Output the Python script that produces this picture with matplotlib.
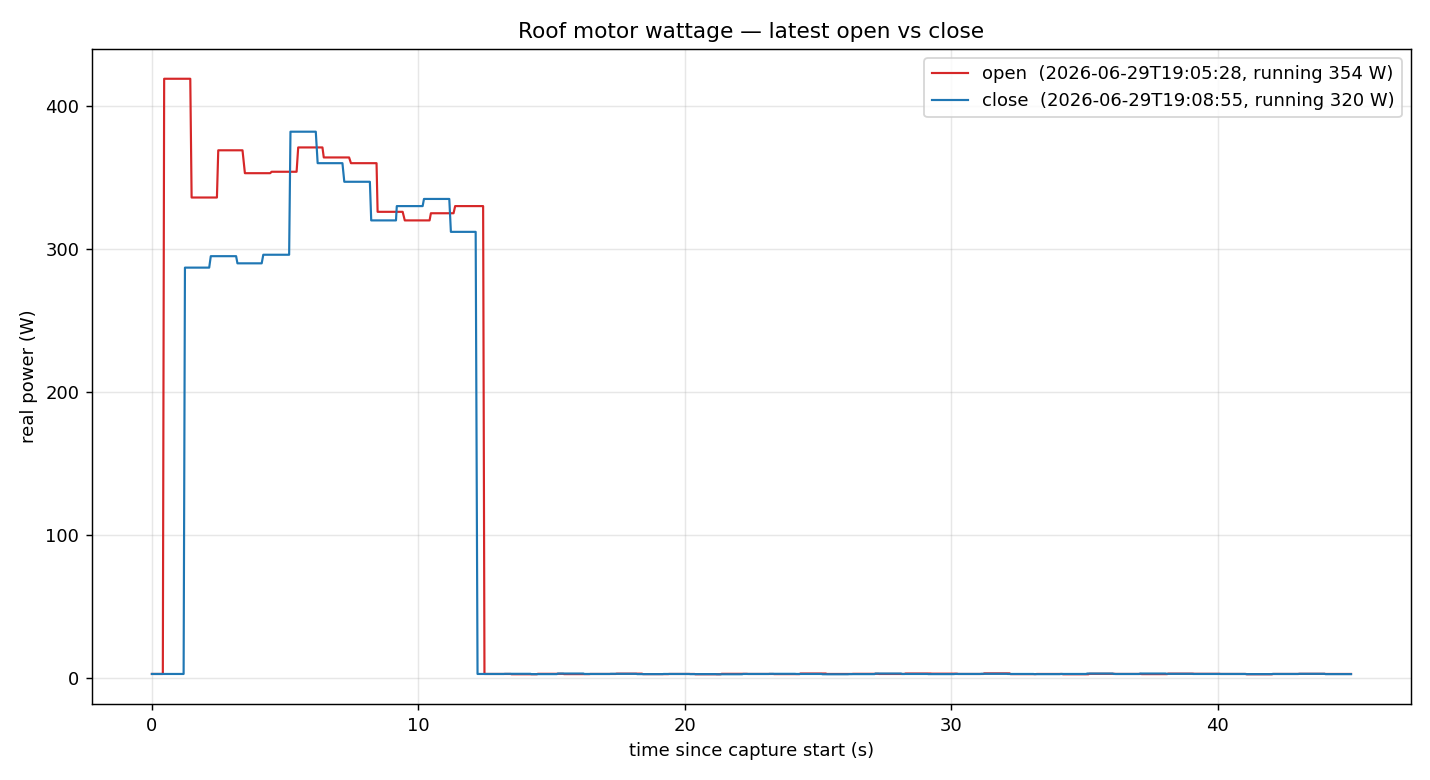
import matplotlib
matplotlib.use("Agg")
import matplotlib.pyplot as plt
import numpy as np

# ---- data: (segment start s, segment end s, watts) ----
open_t0 = [0.00, 0.46, 1.49, 2.49, 3.49, 4.49, 5.49, 6.45, 7.47, 8.47, 9.49, 10.47, 11.38]
open_t1 = [0.41, 1.44, 2.44, 3.40, 4.44, 5.43, 6.40, 7.40, 8.43, 9.41, 10.42, 11.32, 12.43]
open_w  = [3.0, 419, 336, 369, 353, 354, 371, 364, 360, 326, 320, 325, 330]

close_t0 = [0.00, 1.24, 2.21, 3.21, 4.18, 5.20, 6.22, 7.22, 8.23, 9.19, 10.21, 11.22]
close_t1 = [1.19, 2.15, 3.16, 4.12, 5.15, 6.15, 7.15, 8.18, 9.16, 10.16, 11.16, 12.15]
close_w  = [3.0, 287, 295, 290, 296, 382, 360, 347, 320, 330, 335, 312]

# idle readings after the motor stops (about one per second)
open_idle_start = 12.48
open_idle_w = [3.0, 2.8, 3.1, 2.9, 3.0, 3.2, 2.9, 3.0, 2.8, 3.1, 3.0, 2.9, 3.3,
               3.0, 3.1, 3.0, 3.3, 3.2, 3.0, 3.4, 2.9, 3.0, 2.8, 3.1, 3.0,
               2.9, 3.2, 3.1, 3.0, 2.8, 3.0, 3.1, 3.0]
close_idle_start = 12.22
close_idle_w = [3.0, 3.1, 2.9, 3.3, 3.0, 3.1, 2.9, 3.0, 2.9, 2.8, 3.0, 3.1, 3.0,
                2.8, 2.9, 3.3, 3.0, 2.9, 3.0, 3.1, 3.0, 2.9, 3.0, 3.3, 3.0,
                3.3, 3.1, 3.0, 3.0, 2.9, 3.0, 3.1, 2.9]
idle_end = 45.0

open_label = "open  (2026-06-29T19:05:28, running 354 W)"
close_label = "close  (2026-06-29T19:08:55, running 320 W)"


def build(t0, t1, w, idle_start, idle_w, end):
    xs, ys = [], []
    for a, b, v in zip(t0, t1, w):
        xs += [a, b]
        ys += [v, v]
    edges = np.linspace(idle_start, end, len(idle_w) + 1)
    for i, v in enumerate(idle_w):
        a = edges[i] if i == 0 else edges[i] + 0.03
        xs += [a, edges[i + 1]]
        ys += [v, v]
    return xs, ys


ox, oy = build(open_t0, open_t1, open_w, open_idle_start, open_idle_w, idle_end)
cx, cy = build(close_t0, close_t1, close_w, close_idle_start, close_idle_w, idle_end)

fig = plt.figure(figsize=(11, 6), dpi=130)
ax = fig.add_axes([0.0643, 0.0974, 0.9224, 0.8398])
ax.plot(ox, oy, color="#d62728", lw=1.2, label=open_label)
ax.plot(cx, cy, color="#1f77b4", lw=1.2, label=close_label)
ax.set_title("Roof motor wattage — latest open vs close")
ax.set_xlabel("time since capture start (s)")
ax.set_ylabel("real power (W)")
ax.set_xticks([0, 10, 20, 30, 40])
ax.set_yticks([0, 100, 200, 300, 400])
ax.grid(True, alpha=0.3)
ax.legend(loc="upper right")
fig.savefig("out.png", dpi=130)
